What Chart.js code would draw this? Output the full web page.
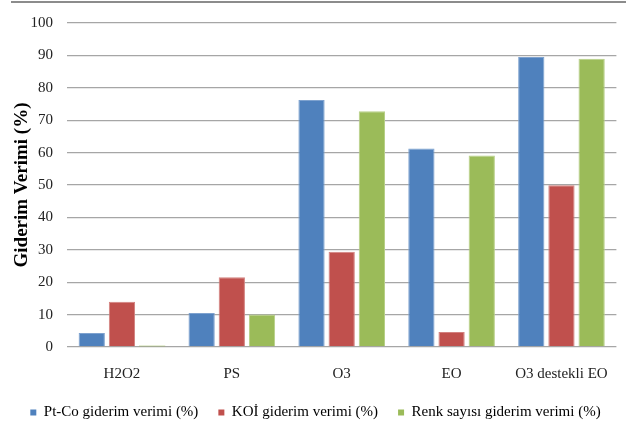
<!DOCTYPE html>
<html>
<head>
<meta charset="utf-8">
<script src="https://cdn.jsdelivr.net/npm/chart.js@4.4.1/dist/chart.umd.min.js"></script>
<style>
  html, body { margin: 0; padding: 0; background: #fff; }
  #wrap { position: relative; width: 626px; height: 434px; }
  #topRule { position: absolute; left: 11px; right: 0; top: 1px; height: 1px; border-top: 2px solid #8c8c8c; }
  canvas { display: block; }
</style>
</head>
<body>
<div id="wrap">
  <canvas id="c" width="626" height="434"></canvas>
  <div id="topRule"></div>
</div>
<script>
// Treatment processes
const categories = ['H2O2', 'PS', 'O3', 'EO', 'O3 destekli EO'];

// Removal efficiencies (%)
const ptCoRemoval = [4.3, 10.5, 76.2, 61.3, 89.5];
const koiRemoval = [14.0, 21.5, 29.4, 4.6, 49.9];
const renkRemoval = [0.4, 10.0, 72.8, 59.1, 89.0];

const seriesNames = ['Pt-Co giderim verimi (%)', 'KOİ giderim verimi (%)', 'Renk sayısı giderim verimi (%)'];
const seriesColors = ['#4f81bd', '#c0504d', '#9bbb59'];
const seriesEdges = ['#7ea2cf', '#d3817f', '#b7cf87'];

const yTicks = [0, 10, 20, 30, 40, 50, 60, 70, 80, 90, 100];
const yTitle = 'Giderim Verimi (%)';

const serif = "'Liberation Serif', 'Times New Roman', serif";
Chart.defaults.font.family = serif;
Chart.defaults.font.size = 15;
Chart.defaults.color = '#222';

new Chart(document.getElementById('c'), {
  type: 'bar',
  data: {
    labels: categories,
    datasets: [ptCoRemoval, koiRemoval, renkRemoval].map((vals, i) => ({
      label: seriesNames[i],
      data: vals,
      backgroundColor: seriesColors[i],
      borderColor: seriesEdges[i],
      // very short bars stay solid so they remain visible
      borderWidth: (ctx) => (ctx.raw !== undefined && ctx.raw < 2 ? 0 : 1),
      categoryPercentage: 0.824,
      barPercentage: 0.87
    }))
  },
  options: {
    responsive: false,
    animation: false,
    devicePixelRatio: 1,
    layout: { padding: { left: 8, right: 3, top: 23, bottom: 4 } },
    plugins: {
      tooltip: { enabled: false },
      legend: {
        position: 'bottom',
        labels: {
          boxWidth: 6,
          boxHeight: 6,
          padding: 20,
          color: '#222',
          font: { family: serif, size: 15 },
          generateLabels: (chart) => chart.data.datasets.map((ds, i) => ({
            text: ds.label,
            fillStyle: ds.backgroundColor,
            strokeStyle: ds.backgroundColor,
            lineWidth: 0,
            hidden: false,
            datasetIndex: i
          }))
        }
      }
    },
    scales: {
      x: {
        grid: { display: false, drawTicks: false },
        border: { display: false },
        afterFit: (axis) => { axis.height -= 16; },
        ticks: {
          color: '#222',
          padding: 18,
          font: { family: serif, size: 15 }
        }
      },
      y: {
        min: 0,
        max: 100,
        afterBuildTicks: (axis) => { axis.ticks = yTicks.map(v => ({ value: v })); },
        afterFit: (axis) => { axis.width = 59; },
        grid: { color: '#a6a6a6', lineWidth: 1.3, drawTicks: false },
        border: { display: false },
        ticks: {
          color: '#222',
          padding: 14,
          font: { family: serif, size: 15 }
        },
        title: {
          display: true,
          text: yTitle,
          color: '#000',
          padding: { top: 3, bottom: 0 },
          font: { family: serif, size: 19, weight: 'bold' }
        }
      }
    }
  }
});
</script>
</body>
</html>
